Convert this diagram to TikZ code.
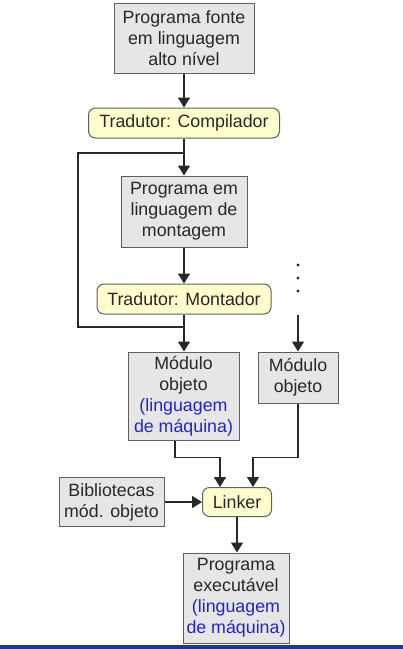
\documentclass[tikz,border=0pt]{standalone}
\usepackage{fontspec}
\setmainfont{Liberation Sans}
\usetikzlibrary{arrows.meta}

\definecolor{cinza}{RGB}{230,230,230}
\definecolor{borda}{RGB}{95,95,95}
\definecolor{amarelo}{RGB}{255,255,206}
\definecolor{azul}{RGB}{35,35,205}
\definecolor{texto}{RGB}{40,40,40}
\definecolor{faixa}{RGB}{40,52,140}

\tikzset{
    caixa/.style={rectangle,draw=borda,fill=cinza,line width=1pt,inner sep=0pt,
        align=center,text=texto,font=\fontsize{17.8}{21}\selectfont},
    tradutor/.style={caixa,fill=amarelo,rounded corners=7pt},
    linha/.style={line width=1.5pt,draw=texto},
    seta/.style={linha,-{Triangle[width=12pt,length=10pt]}}
}

\begin{document}
\begin{tikzpicture}[x=1pt,y=-1pt]

            %\draw [help lines] (0,0) grid (403,649);
            \useasboundingbox (0,0) rectangle (403,649);

            \path   (184,38) node (fonte) [caixa,minimum width=140,minimum height=70] {Programa fonte\\em linguagem\\alto nível}
                    (184,123) node (comp) [tradutor,minimum width=191,minimum height=30] {Tradutor: Compilador}
                    (184,211.5) node (mont) [caixa,minimum width=126,minimum height=71] {Programa em\\linguagem de\\montagem}
                    (184,299) node (montador) [tradutor,minimum width=174,minimum height=30] {Tradutor: Montador}
                    (183.5,396) node (modA) [caixa,minimum width=111,minimum height=88] {Módulo\\objeto\\\textcolor{azul}{(linguagem}\\\textcolor{azul}{de máquina)}}
                    (298,377.5) node (modB) [caixa,minimum width=80,minimum height=51] {Módulo\\objeto}
                    (237,502) node (linker) [tradutor,minimum width=69,minimum height=29] {Linker}
                    (111.5,502) node (bib) [caixa,minimum width=105,minimum height=49] {Bibliotecas\\mód. objeto}
                    (236,598) node (exec) [caixa,minimum width=106,minimum height=90] {Programa\\executável\\\textcolor{azul}{(linguagem}\\\textcolor{azul}{de máquina)}};

            \coordinate (ramo) at (184,153);
            \coordinate (esq1) at (78,153);
            \coordinate (esq2) at (78,327);
            \coordinate (junta) at (184,327);
            \coordinate (pontos) at (298,315);

            \draw[seta] (fonte) -- (comp);
            \draw[seta] (comp) -- (mont);
            \draw[linha] (ramo) -- (esq1) -- (esq2) -- (junta);
            \draw[seta] (mont) -- (montador);
            \draw[seta] (montador.south) -- (montador.south |- modA.north);

            \foreach \y in {265,278,291}
                \fill[texto] (298,\y) circle (1.7pt);
            \draw[seta] (pontos) -- (modB);

            \draw[seta] ([xshift=-8.5pt]modA.south) -- ++(0,17) -| ([xshift=-17pt]linker.north);
            \draw[seta] (modB.south) -- ++(0,54) -| ([xshift=16pt]linker.north);
            \draw[seta] (bib) -- (linker);
            \draw[seta] (linker.south) -- (linker.south |- exec.north);

            \fill[faixa] (0,645) rectangle (403,649);

        \end{tikzpicture}
\end{document}
